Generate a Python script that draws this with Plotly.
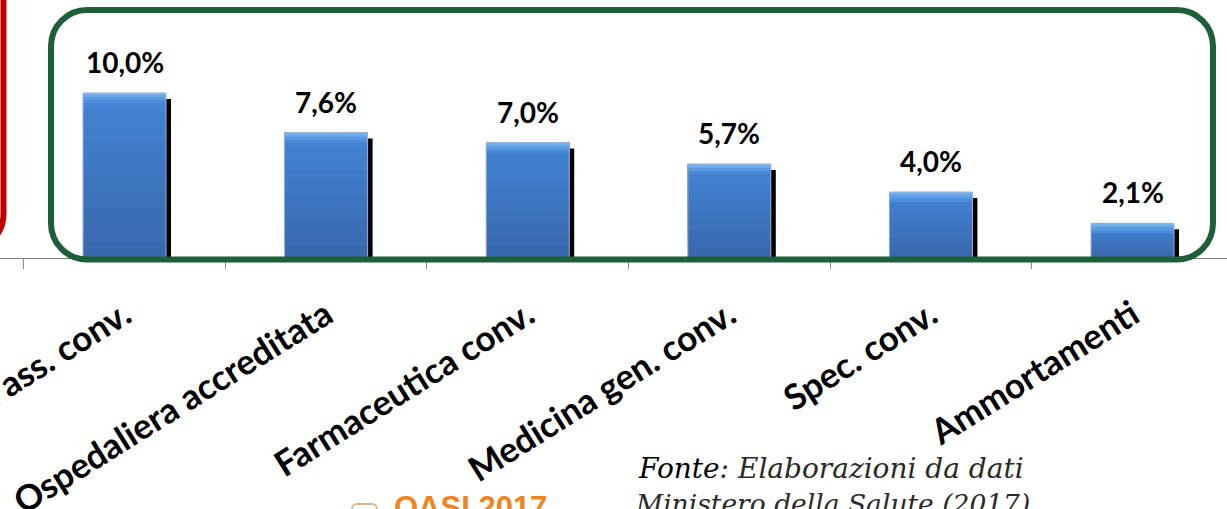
import plotly.graph_objects as go

# ---------------- data ----------------
categories = ["Altra ass. conv.", "Ospedaliera accreditata", "Farmaceutica conv.",
              "Medicina gen. conv.", "Spec. conv.", "Ammortamenti"]
values = [10.0, 7.6, 7.0, 5.7, 4.0, 2.1]
value_labels = ["10,0%", "7,6%", "7,0%", "5,7%", "4,0%", "2,1%"]
source_line1_a = "Fonte"
source_line1_b = ": Elaborazioni da dati"
source_line2 = "Ministero della Salute (2017)"
logo_text = "OASI 2017"

# ---------------- geometry / style ----------------
W, H = 1227, 509
PLOT_BOTTOM = 258          # pixel row of the category axis
PX_PER_CAT = 201.6
FIRST_CENTER = 124.5
PX_PER_UNIT = 16.5

x_range = [-FIRST_CENTER / PX_PER_CAT, (W - FIRST_CENTER) / PX_PER_CAT]
y_range = [0, PLOT_BOTTOM / PX_PER_UNIT]

bar_w = 83 / PX_PER_CAT
shadow_dx = 5 / PX_PER_CAT
shadow_dy = 6 / PX_PER_UNIT
bevel_steps = [(10, "#4C8CDA"), (7, "#5A9AE2"), (4, "#6AA8EA"), (2, "#78B3EE")]  # (px from top, colour)

BOLD_FONT = "Lato"


def paper(xp, yp):
    return xp / W, (PLOT_BOTTOM - yp) / PLOT_BOTTOM


def rounded_path(x0, y0, x1, y1, r):
    k = 0.5523 * r
    segs = [
        ("M", [(x0 + r, y0)]),
        ("L", [(x1 - r, y0)]),
        ("C", [(x1 - r + k, y0), (x1, y0 + r - k), (x1, y0 + r)]),
        ("L", [(x1, y1 - r)]),
        ("C", [(x1, y1 - r + k), (x1 - r + k, y1), (x1 - r, y1)]),
        ("L", [(x0 + r, y1)]),
        ("C", [(x0 + r - k, y1), (x0, y1 - r + k), (x0, y1 - r)]),
        ("L", [(x0, y0 + r)]),
        ("C", [(x0, y0 + r - k), (x0 + r - k, y0), (x0 + r, y0)]),
    ]
    out = []
    for cmd, pts in segs:
        coords = []
        for (a, b) in pts:
            u, v = paper(a, b)
            coords.append(f"{u:.5f},{v:.5f}")
        out.append(cmd + " " + " ".join(coords))
    return " ".join(out) + " Z"


def lerp_color(c1, c2, t):
    a = [int(c1[i:i + 2], 16) for i in (1, 3, 5)]
    b = [int(c2[i:i + 2], 16) for i in (1, 3, 5)]
    return "rgb(" + ",".join(str(round(a[i] + (b[i] - a[i]) * t)) for i in range(3)) + ")"


fig = go.Figure()

# drop shadow
fig.add_trace(go.Bar(
    x=categories, y=[v - shadow_dy for v in values],
    width=bar_w, offset=-bar_w / 2 + shadow_dx,
    marker=dict(color="#000000", line=dict(width=0)),
    hoverinfo="skip", showlegend=False))

# bar body as a vertical gradient (bottom darker, top lighter); bands overlap to avoid seams
N = 10
for k in range(N):
    fig.add_trace(go.Bar(
        x=categories, y=[v * (N - k) / N for v in values], base=[v * k / N for v in values],
        width=bar_w, offset=-bar_w / 2,
        marker=dict(color=lerp_color("#3869AE", "#4283D3", k / (N - 1)), line=dict(width=0)),
        hoverinfo="skip", showlegend=False))

# top bevel highlight (soft steps)
for px_h, col in bevel_steps:
    h = px_h / PX_PER_UNIT
    fig.add_trace(go.Bar(
        x=categories, y=[h] * len(values), base=[v - h for v in values],
        width=bar_w, offset=-bar_w / 2,
        marker=dict(color=col, line=dict(width=0)),
        hoverinfo="skip", showlegend=False))

# outline
fig.add_trace(go.Bar(
    x=categories, y=values,
    width=bar_w, offset=-bar_w / 2,
    marker=dict(color="rgba(0,0,0,0)", line=dict(color="#9AB0CC", width=1)),
    hovertemplate="%{x}: %{y}%<extra></extra>", showlegend=False))

annotations = []
for c, v, t in zip(categories, values, value_labels):
    annotations.append(dict(
        x=c, y=v, xref="x", yref="y", text=t, showarrow=False,
        xanchor="center", yanchor="bottom", yshift=12,
        font=dict(family=BOLD_FONT, size=28, color="#000000", weight="bold")))

fx, fy = paper(636, 468)
annotations.append(dict(
    x=fx, y=fy, xref="paper", yref="paper", showarrow=False,
    xanchor="left", yanchor="middle",
    text=f"<span style='color:#000'>{source_line1_a}</span><span style='color:#2a2a2a'>{source_line1_b}</span>",
    font=dict(family="DejaVu Serif", size=28, style="italic", color="#222")))
fx, fy = paper(633, 503)
annotations.append(dict(
    x=fx, y=fy, xref="paper", yref="paper", showarrow=False,
    xanchor="left", yanchor="middle", text=source_line2,
    font=dict(family="DejaVu Serif", size=26.5, style="italic", color="#2a2a2a")))

lx, ly = paper(392, 488)
annotations.append(dict(
    x=lx, y=ly, xref="paper", yref="paper", showarrow=False,
    xanchor="left", yanchor="top", text=logo_text,
    font=dict(family="Liberation Sans", size=31, color="#F0841F", weight="bold")))

shapes = [
    dict(type="path", xref="paper", yref="paper", layer="above",
         path=rounded_path(51, 10, 1213, 259.5, 36),
         line=dict(color="#1F5E3B", width=6), fillcolor="rgba(0,0,0,0)"),
    dict(type="path", xref="paper", yref="paper", layer="above",
         path=rounded_path(-300, -60, 3.5, 250, 36),
         line=dict(color="#C00000", width=6), fillcolor="rgba(0,0,0,0)"),
    dict(type="path", xref="paper", yref="paper", layer="above",
         path=rounded_path(352, 504, 377, 530, 5),
         line=dict(color="#D9B48C", width=2), fillcolor="rgba(0,0,0,0)"),
]

fig.update_layout(
    width=W, height=H,
    margin=dict(l=0, r=0, t=0, b=H - PLOT_BOTTOM, pad=0, autoexpand=False),
    paper_bgcolor="#FFFFFF", plot_bgcolor="#FFFFFF",
    barmode="overlay", showlegend=False,
    annotations=annotations, shapes=shapes,
    xaxis=dict(type="category", range=x_range, categoryorder="array", categoryarray=categories,
               showgrid=False, zeroline=False, showline=True, linecolor="#7F7F7F", linewidth=1,
               ticks="outside", tickson="boundaries", ticklen=10, tickcolor="#8C8C8C", tickwidth=1,
               tickangle=-32, ticklabelstandoff=22,
               tickfont=dict(family=BOLD_FONT, size=35, color="#000000", weight="bold"),
               automargin=False, fixedrange=True),
    yaxis=dict(range=y_range, visible=False, showgrid=False, zeroline=False,
               automargin=False, fixedrange=True),
)

fig.write_html("out.html", config={"displayModeBar": False},
               post_script="document.body.style.margin='0';document.body.style.padding='0';"
                           "document.documentElement.style.overflow='hidden';")
